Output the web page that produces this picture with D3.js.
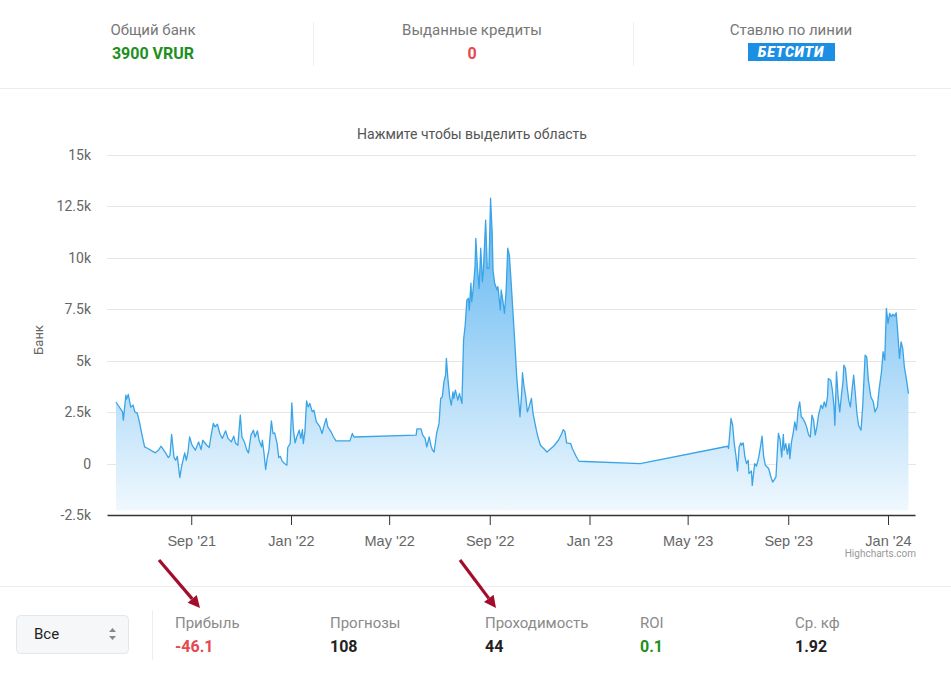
<!DOCTYPE html>
<html lang="ru">
<head>
<meta charset="UTF-8">
<title>Банк</title>
<style>
  body { margin: 0; background: #fff; font-family: Roboto, "Noto Sans", sans-serif; }
  .hd-label { font-size: 15px; fill: #777; }
  .hd-value { font-size: 16px; font-weight: bold; }
  .axis-label { font-size: 14px; fill: #666; }
  .st-label { font-size: 15px; fill: #8a8a8a; }
  .st-value { font-size: 16px; font-weight: bold; fill: #222; }
</style>
<script src="https://d3js.org/d3.v7.min.js"></script>
</head>
<body>
<script>
// series: days since 1 Jun 2021 and bank value
var startDate = new Date(2021, 5, 1);
var days = [
  0,8,9,12,13,15,18,21,23,26,29,31,35,39,48,52,55,60,64,66,68,71,73,75,78,80,84,86,88,90,
  93,97,101,104,106,111,114,116,119,121,124,127,130,134,137,141,144,146,149,152,154,157,160,162,165,168,170,
  173,175,178,179,181,183,185,187,190,192,194,197,199,201,203,206,209,210,213,215,217,219,221,224,226,228,229,231,
  233,235,237,240,242,245,249,252,254,257,259,263,266,269,286,289,291,367,368,373,375,378,
  380,383,385,387,389,392,395,397,399,401,403,404,406,408,410,412,413,415,418,420,423,425,427,429,431,432,434,435,437,439,
  440,442,444,446,448,449,451,452,454,456,458,460,461,463,466,467,470,471,473,475,477,479,481,483,485,487,490,492,494,496,
  497,499,501,503,505,508,510,514,516,519,523,527,535,541,545,547,549,551,556,558,563,566,641,
  748,749,752,754,756,758,760,762,764,765,767,769,771,773,774,777,778,781,783,784,786,788,790,792,794,798,801,803,805,807,
  809,810,812,814,816,817,819,821,823,824,826,828,830,832,834,836,838,840,843,845,847,849,851,853,855,857,859,861,862,864,
  866,868,870,871,874,876,878,879,881,883,885,887,889,890,892,894,896,898,900,902,904,906,908,911,913,916,918,920,923,926,
  928,931,933,936,938,940,942,944,946,948,950,952,954,956,958,960,962,964,967,969
];
var bank = [
  3000,2520,2120,3330,3140,3370,2750,2850,2520,2460,1970,1550,820,740,530,660,850,570,300,410,1430,300,170,360,-670,-180,530,170,570,1300,
  900,660,1060,690,1140,900,790,1300,1960,1790,1920,1470,1230,1600,1230,1060,1340,1010,900,2360,1300,1060,660,530,1390,1630,1300,
  1600,1140,820,1140,500,-280,300,660,2080,1470,1500,980,300,360,140,10,-70,790,980,2960,1630,1010,1300,1630,1230,1660,980,1550,
  3050,2760,2930,2520,2600,2030,1820,1470,1790,2200,1790,1550,1300,1110,1110,1470,1300,1390,1690,1690,1390,1230,
  820,1300,900,660,570,1470,1960,3170,3250,3980,4300,5120,4060,3250,2850,3490,3170,3580,3090,3410,2930,6010,6740,7950,8040,7470,8770,7870,8600,9570,
  10950,9490,8520,10470,8840,9250,10950,11840,9490,9490,12900,11200,9410,8770,8440,8600,7470,8440,7950,7310,8360,10470,10140,8930,7630,6330,4220,3250,2280,3410,
  4420,3740,3250,2520,2760,3170,2440,1630,1300,900,740,570,850,1140,1470,1660,1550,1010,980,740,330,120,10,
  850,740,2200,1870,980,410,-350,820,1010,900,1010,330,10,170,-480,-350,-1050,10,-120,10,330,820,1340,330,-70,-230,-670,-890,-770,-640,
  820,1470,1180,330,1430,660,980,460,980,250,1060,1470,2030,1630,2600,3010,2280,2200,1960,1710,1390,1300,2360,2120,1390,1790,2360,2680,2850,2680,
  3010,2760,3250,4140,4060,3580,2760,1870,4470,3250,2520,3330,3980,4790,4630,3740,3090,2760,3580,4300,3410,2440,1870,1630,2760,5280,5190,4060,3250,3010,
  2520,2760,3580,4470,5440,5030,7550,6820,7310,7140,7270,7170,7330,6330,5120,5920,5600,4710,3980,3410
];
var yTicks = [-2500, 0, 2500, 5000, 7500, 10000, 12500, 15000];
var xTicks = ['2021-09-01','2022-01-01','2022-05-01','2022-09-01','2023-01-01','2023-05-01','2023-09-01','2024-01-01'];

var header = [
  {label: 'Общий банк', value: '3900 VRUR', color: '#1f8f1f', x: 153},
  {label: 'Выданные кредиты', value: '0', color: '#e5484d', x: 472},
  {label: 'Ставлю по линии', value: null, x: 791}
];
var stats = [
  {label: 'Прибыль', value: '-46.1', color: '#e5484d', x: 175},
  {label: 'Прогнозы', value: '108', color: '#222', x: 330},
  {label: 'Проходимость', value: '44', color: '#222', x: 485},
  {label: 'ROI', value: '0.1', color: '#1f8f1f', x: 640},
  {label: 'Ср. кф', value: '1.92', color: '#222', x: 795}
];

function dayToDate(n) {
  var d = new Date(startDate);
  d.setDate(d.getDate() + n);
  return d;
}
var data = days.map(function(d, i){ return {date: dayToDate(d), v: bank[i]}; });

var W = 951, H = 684;
var svg = d3.select('body').append('svg')
  .attr('width', W).attr('height', H);

// ---- header
svg.append('line').attr('x1', 0).attr('x2', W).attr('y1', 88.5).attr('y2', 88.5)
  .attr('stroke', '#ececec');
[313, 633].forEach(function(x){
  svg.append('line').attr('x1', x + .5).attr('x2', x + .5).attr('y1', 22).attr('y2', 66)
    .attr('stroke', '#efefef');
});
header.forEach(function(h){
  svg.append('text').attr('class', 'hd-label').attr('x', h.x).attr('y', 35)
    .attr('text-anchor', 'middle').text(h.label);
  if (h.value !== null) {
    svg.append('text').attr('class', 'hd-value').attr('x', h.x).attr('y', 59)
      .attr('text-anchor', 'middle').attr('fill', h.color).text(h.value);
  } else {
    svg.append('rect').attr('x', 748).attr('y', 43).attr('width', 87).attr('height', 18)
      .attr('fill', '#1b8fe4');
    svg.append('text').attr('x', 791).attr('y', 57).attr('text-anchor', 'middle')
      .attr('fill', '#fff').style('font-size', '14px').style('font-weight', '900')
      .style('font-style', 'italic').style('letter-spacing', '0.8px').text('БЕТСИТИ');
  }
});

// ---- chart
var x = d3.scaleTime()
  .domain([dayToDate(-11), dayToDate(977)])
  .range([107, 915]);
var y = d3.scaleLinear()
  .domain([-2500, 15000])
  .range([515.2, 155]);

svg.append('text').attr('x', 472).attr('y', 139).attr('text-anchor', 'middle')
  .style('font-size', '14px').attr('fill', '#555')
  .text('Нажмите чтобы выделить область');

var grid = svg.append('g');
grid.selectAll('line').data(yTicks.slice(1)).enter().append('line')
  .attr('x1', 107).attr('x2', 916)
  .attr('y1', function(d){ return Math.round(y(d)) + .5; })
  .attr('y2', function(d){ return Math.round(y(d)) + .5; })
  .attr('stroke', '#e6e6e6');

var fmt = function(d){ return d === 0 ? '0' : (d / 1000) + 'k'; };
svg.append('g').selectAll('text').data(yTicks).enter().append('text')
  .attr('class', 'axis-label')
  .attr('x', 91).attr('y', function(d){ return y(d); })
  .attr('dy', '0.35em').attr('text-anchor', 'end')
  .text(fmt);

svg.append('text').attr('transform', 'translate(43,340) rotate(-90)')
  .attr('text-anchor', 'middle').style('font-size', '13px').attr('fill', '#666')
  .text('Банк');

var defs = svg.append('defs');
var grad = defs.append('linearGradient').attr('id', 'fillGrad')
  .attr('gradientUnits', 'userSpaceOnUse')
  .attr('x1', 0).attr('x2', 0).attr('y1', 195).attr('y2', 515);
grad.append('stop').attr('offset', 0).attr('stop-color', '#57b2f0');
grad.append('stop').attr('offset', 1).attr('stop-color', '#f2f9fe');

var area = d3.area()
  .x(function(d){ return x(d.date); })
  .y0(y(-2500) - 5)
  .y1(function(d){ return y(d.v); });
var line = d3.line()
  .x(function(d){ return x(d.date); })
  .y(function(d){ return y(d.v); });

svg.append('path').datum(data).attr('d', area).attr('fill', 'url(#fillGrad)');
svg.append('path').datum(data).attr('d', line)
  .attr('fill', 'none').attr('stroke', '#3aa4e6').attr('stroke-width', 1.3)
  .attr('stroke-linejoin', 'round');

var xAxis = d3.axisBottom(x)
  .tickValues(xTicks.map(function(s){ return d3.timeParse('%Y-%m-%d')(s); }))
  .tickFormat(d3.timeFormat("%b '%y"))
  .tickSize(10).tickSizeOuter(0).tickPadding(11);
var gx = svg.append('g').attr('transform', 'translate(0,515)').call(xAxis);
gx.select('.domain').attr('stroke', '#333').attr('stroke-width', 1.3);
gx.selectAll('.tick line').attr('stroke', '#333');
gx.selectAll('.tick text').attr('class', 'axis-label').attr('font-family', null)
  .attr('font-size', null).attr('fill', null).style('font-size', '14.5px');

svg.append('text').attr('x', 916).attr('y', 557).attr('text-anchor', 'end')
  .style('font-size', '10px').attr('fill', '#999').text('Highcharts.com');

// ---- bottom
svg.append('line').attr('x1', 0).attr('x2', W).attr('y1', 586.5).attr('y2', 586.5)
  .attr('stroke', '#ececec');
svg.append('rect').attr('x', 16.5).attr('y', 615.5).attr('width', 112).attr('height', 38)
  .attr('rx', 4).attr('fill', '#f6f7f9').attr('stroke', '#e3e6ea');
svg.append('text').attr('x', 34).attr('y', 639).style('font-size', '15px').attr('fill', '#222')
  .text('Все');
svg.append('path').attr('d', 'M109,632 L112.5,628 L116,632 Z M109,636 L112.5,640 L116,636 Z')
  .attr('fill', '#888');
svg.append('line').attr('x1', 152.5).attr('x2', 152.5).attr('y1', 610).attr('y2', 660)
  .attr('stroke', '#eeeeee');

stats.forEach(function(s){
  svg.append('text').attr('class', 'st-label').attr('x', s.x).attr('y', 628).text(s.label);
  svg.append('text').attr('class', 'st-value').attr('x', s.x).attr('y', 652)
    .style('fill', s.color).text(s.value);
});

// red arrows
var arrows = [[159, 560, 200, 608], [460, 560, 496, 608]];
arrows.forEach(function(a){
  var ang = Math.atan2(a[3] - a[1], a[2] - a[0]);
  var L = 12, wdt = 6;
  var bx = a[2] - L * Math.cos(ang), by = a[3] - L * Math.sin(ang);
  svg.append('line').attr('x1', a[0]).attr('y1', a[1]).attr('x2', bx).attr('y2', by)
    .attr('stroke', '#a30d2b').attr('stroke-width', 3.2);
  var px = -Math.sin(ang), py = Math.cos(ang);
  svg.append('path')
    .attr('d', 'M' + a[2] + ',' + a[3] + ' L' + (bx + px * wdt) + ',' + (by + py * wdt) +
      ' L' + (bx - px * wdt) + ',' + (by - py * wdt) + ' Z')
    .attr('fill', '#a30d2b');
});
</script>
</body>
</html>
